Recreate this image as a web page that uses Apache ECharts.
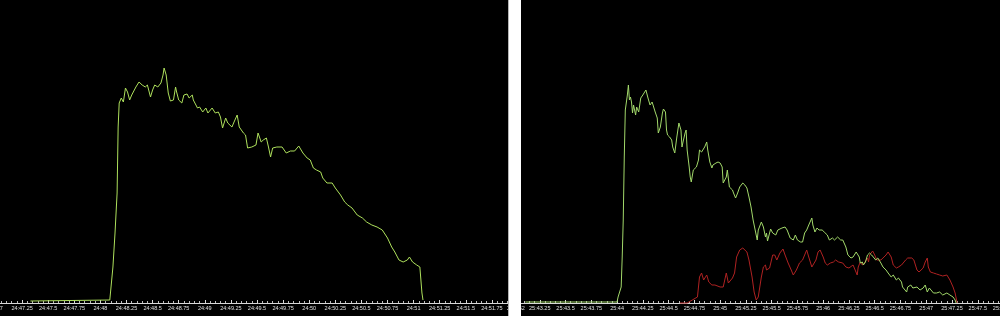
<!DOCTYPE html>
<html>
<head>
<meta charset="utf-8">
<script src="https://cdn.jsdelivr.net/npm/echarts@6/dist/echarts.min.js"></script>
<style>
html,body{margin:0;padding:0;background:#000;}
#chart{width:1000px;height:316px;}
</style>
</head>
<body>
<div id="chart"></div>
<script>
// Left panel (minute 24): seconds and amplitude
const leftT = [47.33,48.09,48.12,48.14,48.16,48.17,48.18,48.20,48.22,48.24,48.26,48.28,48.30,48.34,48.37,48.40,48.43,48.45,48.48,48.50,48.52,48.55,48.58,48.60,48.61,48.63,48.65,48.67,48.70,48.72,48.73,48.75,48.78,48.80,48.83,48.85,48.88,48.89,48.93,48.95,48.98,49.01,49.03,49.07,49.10,49.13,49.15,49.17,49.20,49.22,49.26,49.28,49.31,49.33,49.37,49.39,49.41,49.45,49.49,49.51,49.54,49.56,49.59,49.61,49.63,49.65,49.69,49.74,49.78,49.82,49.86,49.90,49.94,49.98,50.01,50.04,50.07,50.11,50.13,50.17,50.22,50.25,50.30,50.34,50.37,50.41,50.46,50.51,50.55,50.60,50.65,50.70,50.75,50.79,50.82,50.86,50.90,50.94,50.96,50.99,51.03,51.06,51.07,51.08,51.09];
const leftV = [2,3,36,70,110,176,200,205,201,215,211,203,208,216,221,218,216,218,206,213,218,216,220,228,235,228,210,202,203,216,211,203,200,208,209,205,208,203,195,196,191,195,190,195,190,191,186,175,185,180,176,181,188,176,170,168,155,156,158,170,161,163,165,156,146,155,156,156,150,152,152,157,150,145,143,135,133,131,125,120,120,115,108,101,98,95,88,85,81,78,76,73,65,56,51,43,41,43,46,41,38,36,35,10,3];

// Right panel (minute 25): green series
const rightGreenT = [43.11,44.00,44.01,44.04,44.05,44.06,44.07,44.08,44.10,44.11,44.12,44.13,44.14,44.15,44.16,44.18,44.19,44.21,44.23,44.25,44.28,44.30,44.32,44.34,44.35,44.37,44.39,44.40,44.42,44.44,44.45,44.47,44.48,44.49,44.51,44.53,44.54,44.56,44.58,44.60,44.62,44.63,44.64,44.66,44.67,44.68,44.70,44.71,44.72,44.74,44.77,44.79,44.80,44.82,44.83,44.85,44.87,44.88,44.90,44.92,44.93,44.96,44.98,45.00,45.02,45.03,45.06,45.07,45.09,45.12,45.13,45.15,45.17,45.19,45.22,45.24,45.26,45.28,45.30,45.32,45.34,45.36,45.37,45.40,45.42,45.44,45.45,45.46,45.49,45.51,45.54,45.56,45.60,45.63,45.65,45.68,45.71,45.73,45.75,45.78,45.80,45.82,45.84,45.86,45.89,45.90,45.92,45.94,45.96,45.99,46.01,46.04,46.06,46.09,46.11,46.14,46.17,46.19,46.22,46.24,46.27,46.29,46.32,46.33,46.35,46.36,46.38,46.39,46.41,46.43,46.45,46.47,46.48,46.51,46.53,46.56,46.58,46.61,46.63,46.66,46.68,46.71,46.73,46.76,46.77,46.81,46.82,46.85,46.87,46.91,46.94,46.97,46.99,47.01,47.03,47.07,47.10,47.13,47.16,47.20,47.23,47.26,47.28,47.29];
const rightGreenV = [1,1,6,16,46,83,146,193,208,218,203,206,201,190,198,188,196,191,205,208,213,205,198,201,200,191,185,170,176,190,194,191,173,168,166,163,156,150,166,180,173,156,161,170,173,153,136,126,121,133,136,143,153,151,150,156,161,153,141,135,138,140,141,140,136,120,126,133,116,113,110,105,110,116,120,118,115,106,96,83,73,63,73,81,76,66,70,62,74,70,68,73,75,76,73,65,63,68,63,61,61,70,73,78,85,78,71,75,73,73,71,68,63,65,63,66,63,63,56,48,45,46,51,53,46,40,41,38,41,48,50,48,46,43,45,40,36,33,30,26,28,23,25,21,16,11,16,18,15,16,13,15,18,11,15,10,10,11,8,10,8,6,3,0];

// Right panel: red series
const rightRedT = [44.61,44.68,44.73,44.78,44.80,44.82,44.84,44.87,44.89,44.92,44.95,45.00,45.03,45.06,45.08,45.12,45.14,45.16,45.19,45.22,45.26,45.28,45.31,45.33,45.35,45.37,45.40,45.42,45.44,45.45,45.48,45.51,45.53,45.55,45.58,45.61,45.63,45.66,45.69,45.71,45.74,45.77,45.80,45.82,45.84,45.86,45.89,45.90,45.93,45.95,45.97,46.00,46.02,46.04,46.07,46.10,46.12,46.15,46.19,46.22,46.25,46.29,46.31,46.33,46.34,46.36,46.38,46.40,46.43,46.44,46.45,46.48,46.50,46.52,46.53,46.56,46.58,46.61,46.63,46.66,46.68,46.71,46.73,46.76,46.77,46.80,46.82,46.86,46.88,46.91,46.93,46.97,46.99,47.01,47.02,47.04,47.07,47.10,47.13,47.16,47.20,47.23,47.26,47.28,47.30];
const rightRedV = [0,0,3,6,26,30,23,28,21,18,18,16,16,30,20,25,30,46,53,55,51,43,26,11,3,6,26,36,38,33,35,48,48,43,50,54,48,40,33,28,33,40,43,48,53,46,36,36,43,51,53,46,40,38,40,41,43,41,40,36,35,38,33,28,36,41,38,40,45,41,48,52,48,43,45,43,45,48,51,46,38,35,36,38,40,43,45,45,43,33,31,35,41,45,36,31,30,29,28,27,28,23,16,10,0];

const leftMinute = '24';
const rightMinute = '25';

function zip(t, v) { return t.map((x, i) => [x, v[i]]); }
function fmt(prefix) {
  return function (val) { return prefix + ':' + String(Number(val.toFixed(2))); };
}

function xAxis(gridIndex, min, max, prefix) {
  return {
    type: 'value', gridIndex: gridIndex, min: min, max: max, interval: 0.25,
    splitLine: { show: false },
    axisLine: { show: true, onZero: false, lineStyle: { color: '#d8d8d8', width: 1 } },
    axisTick: { show: true, inside: true, length: 3, lineStyle: { color: '#d8d8d8' } },
    minorTick: { show: true, splitNumber: 5, length: 2, lineStyle: { color: '#bbbbbb' } },
    axisLabel: {
      show: true, color: '#e0e0e0', fontSize: 5.5, margin: 2,
      fontFamily: 'Liberation Sans', showMinLabel: true, showMaxLabel: true,
      hideOverlap: false,
      formatter: fmt(prefix)
    }
  };
}
function yAxis(gridIndex) {
  return {
    type: 'value', gridIndex: gridIndex, min: 0, max: 303,
    show: false, splitLine: { show: false }
  };
}

const chart = echarts.init(document.getElementById('chart'), null, { renderer: 'canvas' });
chart.setOption({
  backgroundColor: '#000',
  animation: false,
  grid: [
    { left: -4, top: 0, width: 522, height: 303, containLabel: false, outerBoundsMode: 'none' },
    { left: 514, top: 0, width: 515.3, height: 303, containLabel: false, outerBoundsMode: 'none' }
  ],
  xAxis: [xAxis(0, 47, 52, leftMinute), xAxis(1, 43, 48, rightMinute)],
  yAxis: [yAxis(0), yAxis(1)],
  series: [
    { type: 'line', xAxisIndex: 0, yAxisIndex: 0, data: zip(leftT, leftV),
      showSymbol: false, lineStyle: { color: '#aee05c', width: 1 }, clip: false },
    { type: 'line', xAxisIndex: 1, yAxisIndex: 1, data: zip(rightRedT, rightRedV),
      showSymbol: false, lineStyle: { color: '#b02222', width: 1 }, clip: false },
    { type: 'line', xAxisIndex: 1, yAxisIndex: 1, data: zip(rightGreenT, rightGreenV),
      showSymbol: false, lineStyle: { color: '#a2d86a', width: 1 }, clip: false }
  ],
  graphic: [
    { type: 'rect', z: 100, shape: { x: 508, y: 0, width: 1, height: 316 }, style: { fill: '#b4b4b4' } },
    { type: 'rect', z: 100, shape: { x: 509, y: 0, width: 12, height: 316 }, style: { fill: '#ffffff' } }
  ]
});
</script>
</body>
</html>
